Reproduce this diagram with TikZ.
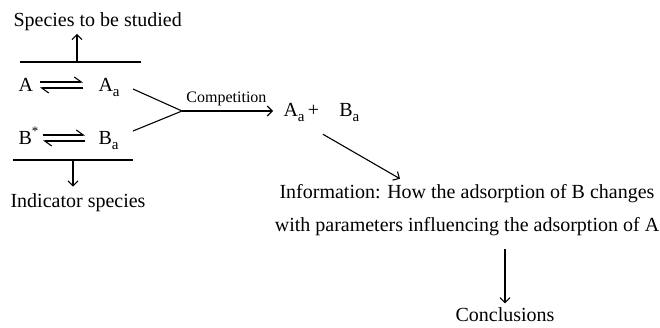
\documentclass[tikz,border=0pt]{standalone}
\usepackage{fontspec}
\setmainfont{Liberation Serif}
\usetikzlibrary{arrows.meta}
\newcommand{\sbs}[1]{\raisebox{-0.5ex}{\fontsize{15}{15}\selectfont #1}}
\newcommand{\sps}[1]{\raisebox{1.05ex}{\fontsize{13}{13}\selectfont #1}}
\begin{document}
\begin{tikzpicture}[x=1pt,y=-1pt,line width=1.1pt,
    >={Straight Barb[length=5pt,width=10pt]},
    every node/.style={inner sep=0pt,font=\fontsize{20}{33}\selectfont},
    small/.style={font=\fontsize{16}{19}\selectfont},
    eq/.style={-{Straight Barb[left,length=7pt,width=10pt]}}]
    \useasboundingbox (0,0) rectangle (660,328);
    % left block
    \node[anchor=base west] (studied) at (13,27) {Species to be studied};
    \node[anchor=base west] (a) at (18,92) {A};
    \node[anchor=base west] (aa) at (98,92) {A\sbs{a}};
    \node[anchor=base west] (b) at (18,145) {B\sps{*}};
    \node[anchor=base west] (ba) at (98,145) {B\sbs{a}};
    \node[anchor=base west] (indicator) at (10,208) {Indicator species};
    \draw (20,62)coordinate(tl)--(141,62);
    \draw (13,160)coordinate(bl)--(133,160);
    \coordinate (up) at (77,62);
    \coordinate (down) at (73,160);
    \draw[->,shorten >=2pt] (up)--(up|-studied.south);
    \draw[->,shorten >=7pt] (down)--(down|-indicator.north);
    \draw[eq] ([shift={(22,-10)}]a.base west)--([shift={(65,-10)}]a.base west);
    \draw[eq] ([shift={(65,-4)}]a.base west)--([shift={(22,-4)}]a.base west);
    \draw[eq] ([shift={(25,-10)}]b.base west)--([shift={(67,-10)}]b.base west);
    \draw[eq] ([shift={(67,-4)}]b.base west)--([shift={(25,-4)}]b.base west);
    % competition
    \coordinate (ja) at (133,89);
    \coordinate (jb) at (133,131);
    \coordinate (join) at (182,111);
    \node[anchor=base west] (ab) at (283,117) {A\sbs{a}\,+\quad B\sbs{a}};
    \draw (ja)--(join)--(jb);
    \draw[->,shorten >=10pt] (join)--node[small,above=5pt,pos=.44]{Competition}(join-|ab.west);
    % right block
    \node[align=center] (info) at (467,210) {Information: How the adsorption of B changes\\with parameters influencing the adsorption of A};
    \node (concl) at (505,315) {Conclusions};
    \draw[->] ([shift={(40,12)}]ab.south west)--([shift={(-67,-5)}]info.north);
    \draw[->,shorten <=13pt,shorten >=4pt] (info.south-|concl.north)--(concl.north);
\end{tikzpicture}
\end{document}
